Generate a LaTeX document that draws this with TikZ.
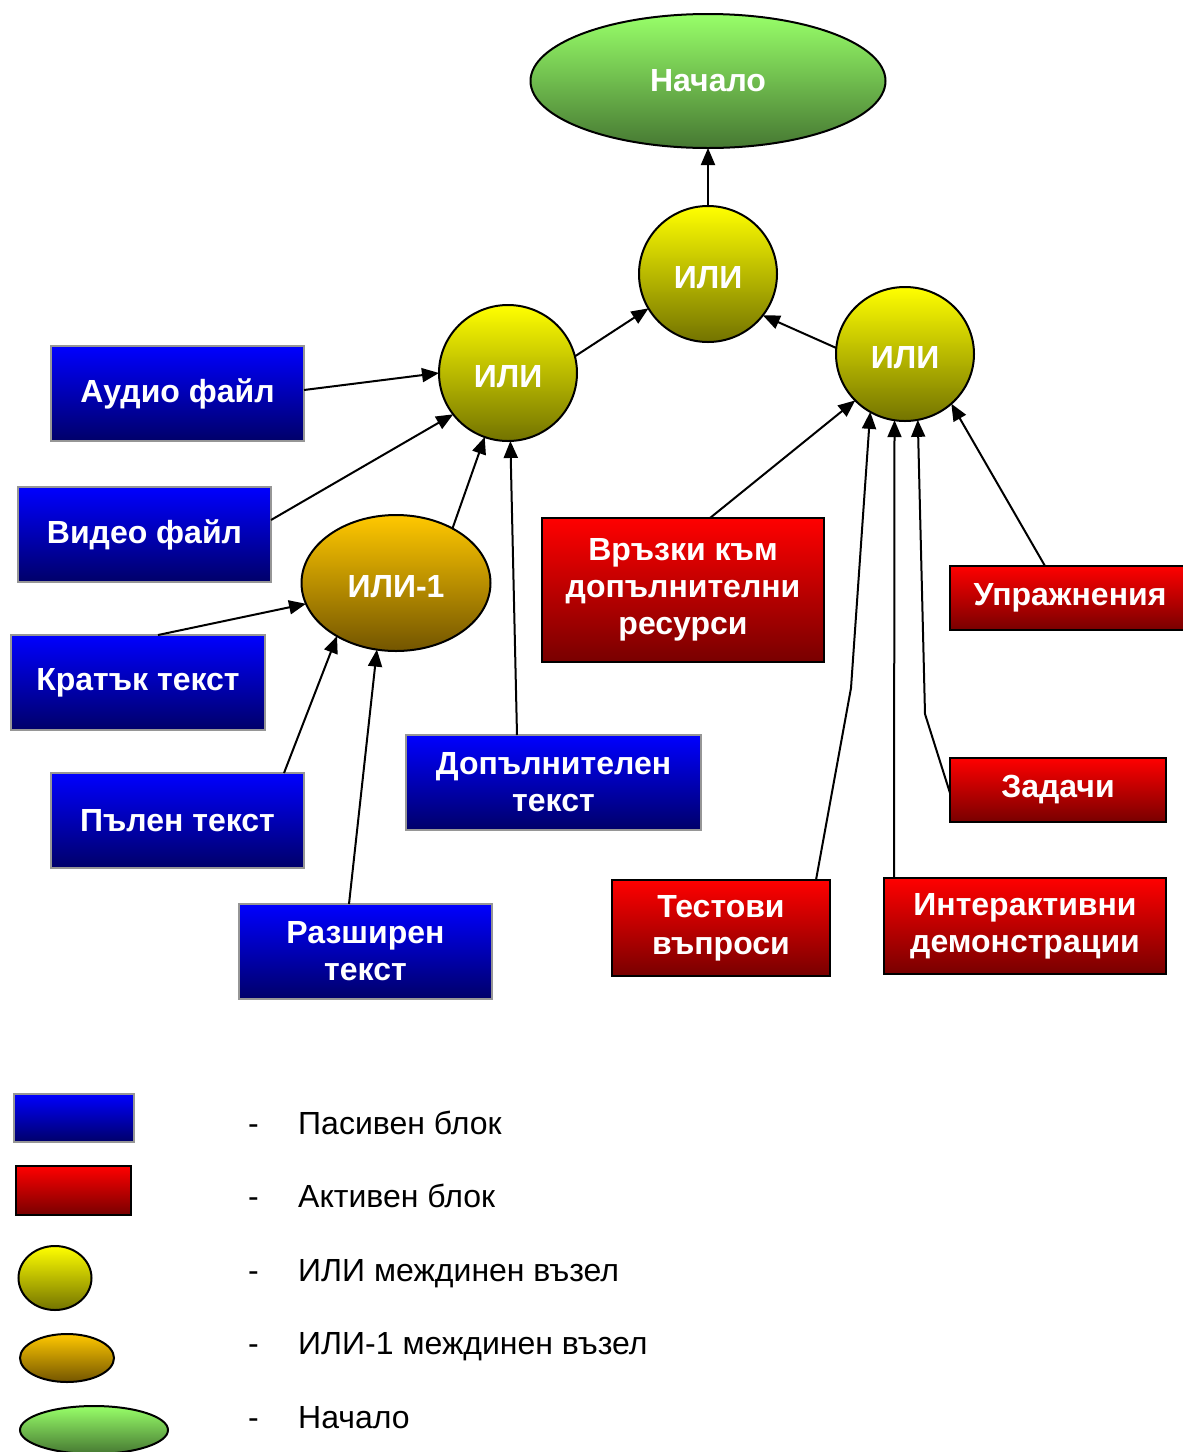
\documentclass[tikz,border=0pt]{standalone}
\usepackage{fontspec}
\setmainfont{Liberation Sans}
\usetikzlibrary{arrows.meta,shapes.geometric}
\definecolor{bluetop}{RGB}{0,0,255}
\definecolor{bluebot}{RGB}{0,0,105}
\definecolor{redtop}{RGB}{255,0,0}
\definecolor{redbot}{RGB}{120,0,0}
\definecolor{yeltop}{RGB}{255,255,0}
\definecolor{yelbot}{RGB}{115,115,0}
\definecolor{ortop}{RGB}{255,200,0}
\definecolor{orbot}{RGB}{115,85,0}
\definecolor{grtop}{RGB}{152,255,105}
\definecolor{grbot}{RGB}{70,120,50}
\definecolor{bluebord}{RGB}{150,150,150}
\tikzset{
  lbl/.style={text=white,font=\bfseries\fontsize{32}{37}\selectfont,align=center,inner sep=0pt,outer sep=0pt},
  bluebox/.style={lbl,rectangle,draw=bluebord,line width=2pt,top color=bluetop,bottom color=bluebot},
  redbox/.style={lbl,rectangle,draw=black,line width=2pt,top color=redtop,bottom color=redbot},
  ornode/.style={lbl,ellipse,draw=black,line width=2pt,top color=yeltop,bottom color=yelbot,text height=29pt,text depth=0pt},
  or1node/.style={lbl,ellipse,draw=black,line width=2pt,top color=ortop,bottom color=orbot,text height=29pt,text depth=0pt},
  startnode/.style={lbl,ellipse,draw=black,line width=2pt,top color=grtop,bottom color=grbot},
  arr/.style={line width=2pt,-{Triangle[length=17pt,width=14pt]}},
  legtext/.style={anchor=base west,font=\fontsize{32}{38}\selectfont,inner sep=0pt},
}
\begin{document}
\begin{tikzpicture}[x=1pt,y=-1pt]
\useasboundingbox (0,0) rectangle (1183,1452);
% main nodes
\node[startnode,minimum width=355,minimum height=134] (start) at (708,81) {Начало};
\node[ornode,minimum width=138,minimum height=136] (orT) at (708,274) {ИЛИ};
\node[ornode,minimum width=138,minimum height=136] (orL) at (508,373) {ИЛИ};
\node[ornode,minimum width=138,minimum height=134] (orR) at (905,354) {ИЛИ};
\node[or1node,minimum width=189,minimum height=136] (or1) at (396,583) {ИЛИ-1};
% passive blocks
\node[bluebox,minimum width=253,minimum height=95] (audio) at (177.5,393.5) {Аудио файл};
\node[bluebox,minimum width=253,minimum height=95] (video) at (144.5,534.5) {Видео файл};
\node[bluebox,minimum width=254,minimum height=95] (short) at (138,682.5) {Кратък текст};
\node[bluebox,minimum width=253,minimum height=95] (full) at (177.5,820.5) {Пълен текст};
\node[bluebox,minimum width=253,minimum height=95] (ext) at (365.5,951.5) {Разширен\\текст};
\node[bluebox,minimum width=295,minimum height=95] (add) at (553.5,782.5) {Допълнителен\\текст};
% active blocks
\node[redbox,minimum width=282,minimum height=144] (links) at (683,590) {Връзки към\\допълнителни\\ресурси};
\node[redbox,minimum width=240,minimum height=64] (exer) at (1070,598) {Упражнения};
\node[redbox,minimum width=216,minimum height=64] (tasks) at (1058,790) {Задачи};
\node[redbox,minimum width=218,minimum height=96] (test) at (721,928) {Тестови\\въпроси};
\node[redbox,minimum width=282,minimum height=96] (inter) at (1025,926) {Интерактивни\\демонстрации};
% connectors
\draw[arr] (orT.north) -- (start.south);
\draw[arr] (orL.14) -- (orT.210);
\draw[arr] (orR.175) -- (orT.323);
\draw[arr] ([yshift=3.5pt]audio.east) -- (orL.180);
\draw[arr] ([yshift=14.5pt]video.east) -- (orL.217);
\draw[arr] (or1.44) -- (orL.250);
\draw[arr] ([xshift=-36.5pt]add.north) -- (orL.272);
\draw[arr] ([xshift=20pt]short.north) -- (or1.193);
\draw[arr] ([xshift=106.5pt]full.north) -- (or1.222);
\draw[arr] ([xshift=-16.5pt]ext.north) -- (or1.254);
\draw[arr] ([xshift=27pt]links.north) -- (orR.223);
\coordinate (tbend) at (851,688);
\draw[arr] ([xshift=95pt]test.north) -- (tbend) -- (orR.239);
\draw[arr] ([xshift=-131pt]inter.north) -- (orR.261);
\coordinate (zbend) at (925,714);
\draw[arr] ([yshift=-3pt]tasks.west) -- (zbend) -- (orR.281);
\draw[arr] ([xshift=-25pt]exer.north) -- (orR.313);
% legend
\node[bluebox,minimum width=120,minimum height=48] (lgblue) at (74,1118) {};
\node[redbox,minimum width=115,minimum height=49] (lgred) at (73.5,1190.5) {};
\node[ornode,minimum width=73,minimum height=64,text height=0pt] (lgor) at (55,1278) {};
\node[or1node,minimum width=94,minimum height=48,text height=0pt] (lgor1) at (67,1358) {};
\node[startnode,minimum width=148,minimum height=48] (lgstart) at (94,1430) {};
\node[legtext] (d1) at (248,1134) {-};
\node[legtext] (t1) at (298,1134) {Пасивен блок};
\node[legtext] (d2) at (248,1207) {-};
\node[legtext] (t2) at (298,1207) {Активен блок};
\node[legtext] (d3) at (248,1281) {-};
\node[legtext] (t3) at (298,1281) {ИЛИ междинен възел};
\node[legtext] (d4) at (248,1354) {-};
\node[legtext] (t4) at (298,1354) {ИЛИ-1 междинен възел};
\node[legtext] (d5) at (248,1428) {-};
\node[legtext] (t5) at (298,1428) {Начало};
\end{tikzpicture}
\end{document}
